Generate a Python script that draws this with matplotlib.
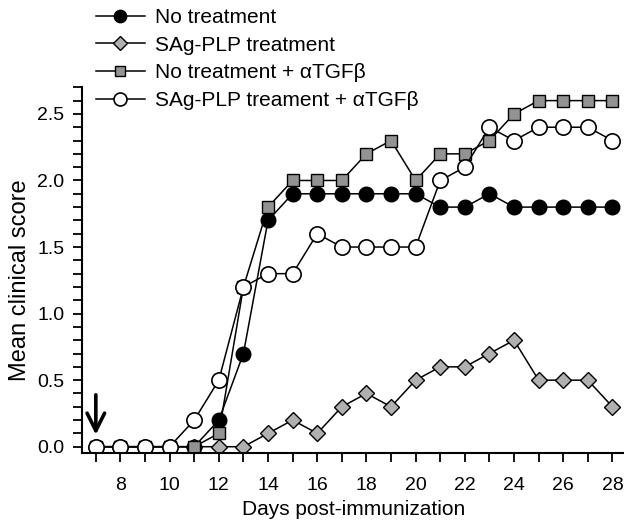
import matplotlib
matplotlib.use('Agg')
import matplotlib.pyplot as plt
from matplotlib.ticker import MultipleLocator, FormatStrFormatter

days = list(range(7, 29))
no_treatment = [0, 0, 0, 0, 0, 0.2, 0.7, 1.7, 1.9, 1.9, 1.9, 1.9, 1.9, 1.9,
                1.8, 1.8, 1.9, 1.8, 1.8, 1.8, 1.8, 1.8]
sag_plp = [0, 0, 0, 0, 0, 0, 0, 0.1, 0.2, 0.1, 0.3, 0.4, 0.3, 0.5,
           0.6, 0.6, 0.7, 0.8, 0.5, 0.5, 0.5, 0.3]
no_treatment_atgfb = [0, 0, 0, 0, 0, 0.1, 1.2, 1.8, 2.0, 2.0, 2.0, 2.2, 2.3, 2.0,
                      2.2, 2.2, 2.3, 2.5, 2.6, 2.6, 2.6, 2.6]
sag_plp_atgfb = [0, 0, 0, 0, 0.2, 0.5, 1.2, 1.3, 1.3, 1.6, 1.5, 1.5, 1.5, 1.5,
                 2.0, 2.1, 2.4, 2.3, 2.4, 2.4, 2.4, 2.3]
labels = ['No treatment', 'SAg-PLP treatment',
          'No treatment + \u03b1TGF\u03b2', 'SAg-PLP treament + \u03b1TGF\u03b2']
arrow_day = 7
arrow_from, arrow_to = 0.39, 0.09

plt.rcParams['font.family'] = ['Liberation Sans', 'DejaVu Sans']

fig = plt.figure(figsize=(6.24, 5.25), dpi=100)
ax = fig.add_axes([82.3 / 624, 1 - 452.7 / 525, (624 - 82.3) / 624, (452.7 - 87.3) / 525])

lw = 1.1
ax.plot(days, no_treatment, '-o', color='black', lw=lw, ms=10.5, mfc='black', mec='black',
        mew=1.0, label=labels[0])
ax.plot(days, sag_plp, '-D', color='black', lw=lw, ms=8.5, mfc='#b0b0b0', mec='black',
        mew=1.0, label=labels[1])
ax.plot(days, no_treatment_atgfb, '-s', color='black', lw=lw, ms=8.5, mfc='#939393', mec='black',
        mew=1.0, label=labels[2])
ax.plot(days, sag_plp_atgfb, '-o', color='black', lw=lw, ms=11, mfc='white', mec='black',
        mew=1.2, label=labels[3])

ax.annotate('', xy=(arrow_day, arrow_to), xytext=(arrow_day, arrow_from),
            arrowprops=dict(arrowstyle='->,head_length=0.9,head_width=0.45',
                            lw=2.6, color='black', mutation_scale=14, shrinkA=0, shrinkB=0))

ax.set_xlim(6.45, 28.47)
ax.set_ylim(-0.045, 2.70)
ax.xaxis.set_major_locator(MultipleLocator(2))
ax.xaxis.set_minor_locator(MultipleLocator(1))
ax.yaxis.set_major_locator(MultipleLocator(0.5))
ax.yaxis.set_minor_locator(MultipleLocator(0.1))
ax.yaxis.set_major_formatter(FormatStrFormatter('%.1f'))
ax.set_xticks([8, 10, 12, 14, 16, 18, 20, 22, 24, 26, 28])
ax.tick_params(axis='both', which='both', direction='out', length=6.5, width=1.3, labelsize=14)
ax.tick_params(axis='x', which='both', pad=11)
ax.tick_params(axis='y', which='both', pad=6.5)

for s in ['top', 'right']:
    ax.spines[s].set_visible(False)
for s in ['left', 'bottom']:
    ax.spines[s].set_linewidth(1.5)

ax.set_xlabel('Days post-immunization', fontsize=15, labelpad=4)
ax.set_ylabel('Mean clinical score', fontsize=17)
ax.yaxis.set_label_coords((31 - 82.3) / 541.7, (452.7 - 280) / 365.4)

ax.legend(loc='upper left', bbox_to_anchor=(96 / 624, 1 - 8 / 525),
          bbox_transform=fig.transFigure, frameon=False, fontsize=15,
          handlelength=2.35, handletextpad=0.5, labelspacing=0.42,
          borderpad=0, borderaxespad=0, markerscale=0.85)

fig.savefig('out.png', dpi=100)
